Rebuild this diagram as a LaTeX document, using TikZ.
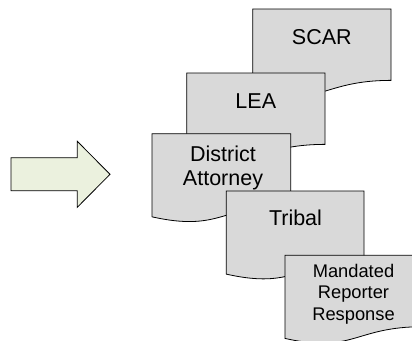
\documentclass[tikz,border=0pt]{standalone}
\usepackage{fontspec}
\setmainfont{Liberation Sans}
\definecolor{pagegray}{HTML}{D9D9D9}
\definecolor{arrowgreen}{HTML}{EBF1DE}
\tikzset{
  docpage/.style={draw=black, fill=pagegray, line width=0.8bp, line join=miter},
  bigarrow/.style={draw=black, fill=arrowgreen, line width=0.8bp},
  doclabel/.style={inner sep=0pt, align=center, font=\fontsize{21.5bp}{24.7bp}\selectfont},
  smalllabel/.style={inner sep=0pt, align=center, font=\fontsize{18.3bp}{21.7bp}\selectfont},
}
% \docsheet{x}{y}{w}{h}: page outline with a wavy bottom edge
\newcommand\docsheet[4]{%
  \path[docpage] (#1,#2) -- ++(#3,0) -- ++(0,{0.802*#4})
    .. controls ({#1+0.5*#3},{#2+0.802*#4}) and ({#1+0.5*#3},{#2+1.1075*#4})
    .. ({#1},{#2+0.934*#4}) -- cycle;}
\begin{document}
\begin{tikzpicture}[x=1bp,y=-1bp]
\useasboundingbox (0,0) rectangle (412,341);
\begin{scope}
\clip (0,0) rectangle (412,341);
% block arrow
\path[bigarrow] (11,157.7) -- (77.3,157.7) -- (77.3,141.3) -- (110,174.3)
  -- (77.3,207.3) -- (77.3,190.7) -- (11,190.7) -- cycle;
% stacked pages
\docsheet{252.7}{9}{138.3}{89}
\node[doclabel, anchor=base] (scar) at (321.8,44) {SCAR};
\docsheet{186.7}{73}{138.3}{89}
\node[doclabel, anchor=base] (lea) at (255.8,108.3) {LEA};
\docsheet{152}{133.7}{138.7}{89}
\node[doclabel, anchor=north] (da) at (223,145.3) {District\\Attorney};
\docsheet{226.3}{191}{137.7}{89}
\node[doclabel, anchor=base] (tribal) at (295.5,225.7) {Tribal};
\docsheet{285}{255.3}{138.3}{89}
\node[smalllabel, anchor=north] (mrr) at (353.5,263.7) {Mandated\\Reporter\\Response};
\end{scope}
\end{tikzpicture}
\end{document}
